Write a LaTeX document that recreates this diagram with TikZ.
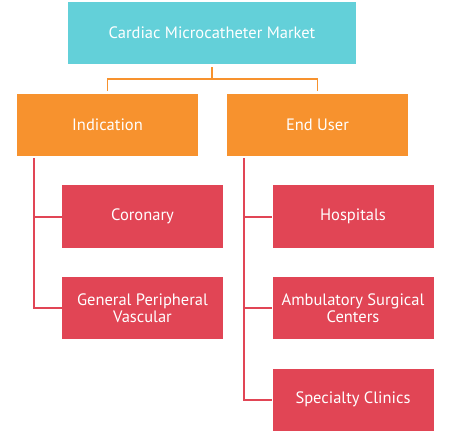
\documentclass[tikz,border=0pt]{standalone}
\usepackage{fontspec}
\setmainfont{PT Sans}
\usepackage{tikz}
\usetikzlibrary{positioning}

\definecolor{marketcyan}{HTML}{63D0D9}
\definecolor{segorange}{HTML}{F7922E}
\definecolor{subred}{HTML}{E14555}

\begin{document}
\begin{tikzpicture}[x=1pt,y=-1pt,
    box/.style={text=white, align=center, inner sep=0pt,
      font=\fontsize{16.5}{17}\selectfont},
    topbox/.style={box, fill=marketcyan, minimum width=288pt, minimum height=62pt},
    segbox/.style={box, fill=segorange, minimum width=181pt, minimum height=62pt},
    subbox/.style={box, fill=subred, minimum width=161pt, minimum height=62pt},
    oline/.style={draw=segorange, line width=1.6pt, shorten <=3pt, shorten >=3pt},
    rline/.style={draw=subred, line width=2pt}]
      \useasboundingbox (0,0) rectangle (450,433);

      \node[topbox] (market) at (212,33) {Cardiac Microcatheter Market};
      \node[segbox] (ind) at (107.5,125) {Indication};
      \node[segbox] (user) at (317.5,125) {End User};

      \node[subbox] (cor) at (142.5,216.5) {Coronary};
      \node[subbox] (gpv) at (142.5,308) {General Peripheral\\Vascular};
      \node[subbox] (hosp) at (353,216.5) {Hospitals};
      \node[subbox] (asc) at (353,308) {Ambulatory Surgical\\Centers};
      \node[subbox] (spc) at (353,399.5) {Specialty Clinics};

      \draw[oline] (market.south) -- ++(0,15) -| (ind.north);
      \draw[oline] (market.south) -- ++(0,15) -| (user.north);

      \draw[rline] ([xshift=-73.5pt,yshift=-2pt]ind.south) |- (gpv.west);
      \draw[rline] ([xshift=-73.5pt,yshift=-2pt]ind.south) |- (cor.west);
      \draw[rline] ([xshift=-73.5pt,yshift=-2pt]user.south) |- (spc.west);
      \draw[rline] ([xshift=-73.5pt,yshift=-2pt]user.south) |- (asc.west);
      \draw[rline] ([xshift=-73.5pt,yshift=-2pt]user.south) |- (hosp.west);
\end{tikzpicture}
\end{document}
